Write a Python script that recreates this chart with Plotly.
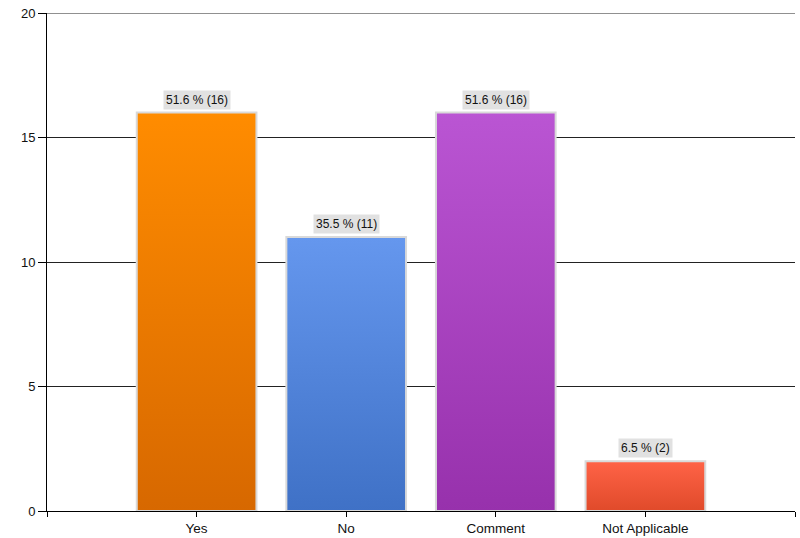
import plotly.graph_objects as go

categories = ["Yes", "No", "Comment", "Not Applicable"]
counts = [16, 11, 16, 2]
percents = [51.6, 35.5, 51.6, 6.5]
top_colors = ["#FF8C00", "#6597EE", "#BA55D3", "#FF6347"]
bottom_colors = ["#D76800", "#3F71C6", "#9731AC", "#E04A2A"]
y_ticks = [0, 5, 10, 15, 20]
y_max = 20

BAR_W = 0.8
fig = go.Figure()
for i, (cat, v) in enumerate(zip(categories, counts)):
    xc = i + 1
    x0, x1 = xc - BAR_W / 2, xc + BAR_W / 2
    fig.add_trace(go.Scatter(
        x=[x0, x1, x1, x0, x0], y=[0, 0, v, v, 0],
        mode="lines", fill="toself",
        fillgradient=dict(type="vertical",
                          colorscale=[[0, bottom_colors[i]], [1, top_colors[i]]]),
        line=dict(color="#d9d9d9", width=2),
        name=cat, showlegend=False, hoverinfo="skip",
    ))
    fig.add_annotation(
        x=xc, y=v, text=f"{percents[i]} % ({v})", showarrow=False,
        yanchor="bottom", yshift=3, bgcolor="#e1e1e1", borderpad=2,
        font=dict(family="Liberation Sans, Arial, sans-serif", size=12, color="#111"),
    )

# top gridline at the range edge
fig.add_shape(type="line", xref="paper", x0=0, x1=1, yref="y", y0=y_max, y1=y_max,
              line=dict(color="#222", width=1), layer="below")

fig.update_layout(
    width=800, height=538,
    margin=dict(l=47, r=5, t=13, b=27, autoexpand=False),
    plot_bgcolor="white", paper_bgcolor="white",
    font=dict(family="Liberation Sans, Arial, sans-serif", size=13, color="#111"),
    xaxis=dict(
        range=[0, 5], tickvals=[0, 1, 2, 3, 4, 5],
        ticktext=[""] + categories + [""], automargin=False,
        tickfont=dict(size=13.5),
        showgrid=False, zeroline=False, showline=True, linecolor="black",
        linewidth=1, ticks="outside", ticklen=5, tickcolor="black",
    ),
    yaxis=dict(
        range=[0, y_max], tickvals=y_ticks, showgrid=True, gridcolor="#222",
        gridwidth=1, zeroline=False, showline=True, linecolor="black",
        linewidth=1, ticks="outside", ticklen=8, tickcolor="black",
        ticklabeloverflow="allow", automargin=False,
    ),
)

fig.write_html("out.html", config={"displayModeBar": False}, post_script=[
    "document.body.style.margin='0px'; document.body.style.overflow='hidden';"
])
